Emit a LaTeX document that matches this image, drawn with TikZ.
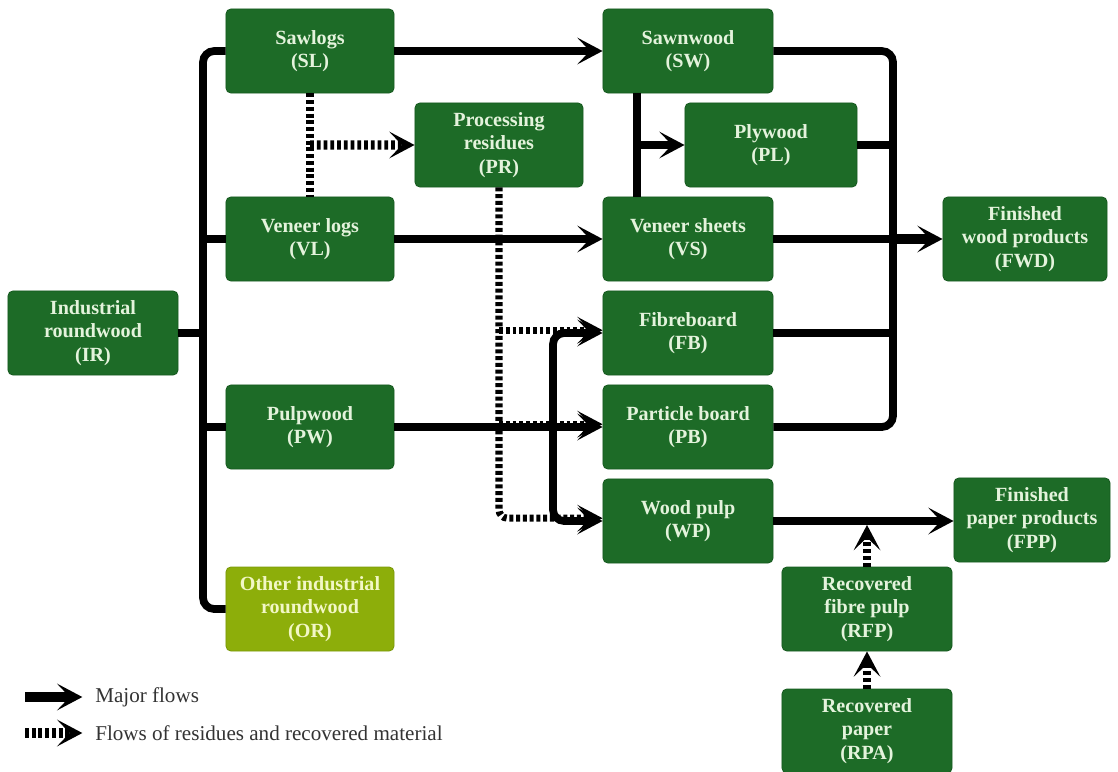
\documentclass[tikz,border=0pt]{standalone}
\usepackage{fontspec}
\setmainfont{Liberation Serif}
\usetikzlibrary{arrows.meta,calc}
\definecolor{boxgreen}{HTML}{1D6B27}
\definecolor{boxedge}{HTML}{175A20}
\definecolor{boxtext}{HTML}{E4F3DC}
\definecolor{orfill}{HTML}{8DAE0A}
\definecolor{oredge}{HTML}{7A9808}
\definecolor{ortext}{HTML}{F2F7C6}
\definecolor{legtext}{HTML}{333333}
\begin{document}
\begin{tikzpicture}[x=0.025cm,y=-0.025cm,
  box/.style={draw=boxedge, fill=boxgreen, rounded corners=3.5pt, minimum height=2.1cm,
    minimum width=4.2cm, text=boxtext, align=center,
    font=\bfseries\fontsize{14.3}{16.5}\selectfont, inner sep=0pt, line width=0.6pt},
  orbox/.style={box, draw=oredge, fill=orfill, text=ortext},
  major/.style={line width=5.5pt, draw=black},
  resid/.style={line width=5pt, draw=black, dash pattern=on 2.8pt off 2pt},
  tip/.style={-{Stealth[length=18pt,width=19pt,inset=9pt]}},
  legend/.style={anchor=west, text=legtext, font=\fontsize{15}{17}\selectfont, inner sep=0pt}
]
\useasboundingbox (0,0) rectangle (1118,771);

% nodes
\node[box, minimum width=4.25cm] (IR) at (93,333) {Industrial\\roundwood\\(IR)};
\node[box] (SL) at (310,51) {Sawlogs\\(SL)};
\node[box] (VL) at (310,239) {Veneer logs\\(VL)};
\node[box] (PW) at (310,427) {Pulpwood\\(PW)};
\node[orbox] (OR) at (310,609) {Other industrial\\roundwood\\(OR)};
\node[box] (PR) at (499,145) {Processing\\residues\\(PR)};
\node[box, minimum width=4.25cm] (SW) at (688,51) {Sawnwood\\(SW)};
\node[box, minimum width=4.3cm] (PL) at (771,145) {Plywood\\(PL)};
\node[box, minimum width=4.25cm] (VS) at (688,239) {Veneer sheets\\(VS)};
\node[box, minimum width=4.25cm] (FB) at (688,333) {Fibreboard\\(FB)};
\node[box, minimum width=4.25cm] (PB) at (688,427) {Particle board\\(PB)};
\node[box, minimum width=4.25cm] (WP) at (688,521) {Wood pulp\\(WP)};
\node[box, minimum width=4.1cm] (FWD) at (1025,239) {Finished\\wood products\\(FWD)};
\node[box, minimum width=3.9cm] (FPP) at (1032,520) {Finished\\paper products\\(FPP)};
\node[box, minimum width=4.25cm] (RFP) at (867,609) {Recovered\\fibre pulp\\(RFP)};
\node[box, minimum width=4.25cm] (RPA) at (867,731) {Recovered\\paper\\(RPA)};

% junction coordinates
\coordinate (trunk) at (203,333);
\coordinate (D1) at ($(SL.south)!0.5!(VL.north)$);
\coordinate (J) at (553,427);
\coordinate (K) at (637,145);
\coordinate (C) at (893,239);

% residue flows (below major flows)
\draw[resid] (SL.south) -- (VL.north);
\draw[resid, line width=6.5pt, tip] (D1) -- (PR.west);
\draw[resid, tip, rounded corners=6pt] (PR.south) |- ([yshift=2pt]WP.west);
\draw[resid, tip] ([yshift=2pt]PR.south |- FB.west) -- ([yshift=2pt]FB.west);
\draw[resid, tip] ([yshift=2pt]PR.south |- PB.west) -- ([yshift=2pt]PB.west);

% major flows
\draw[major, rounded corners=8pt] (SL.west) -| (trunk) |- (OR.west);
\draw[major] (IR.east) -- (trunk);
\draw[major] (VL.west) -- (VL.west -| trunk);
\draw[major] (PW.west) -- (PW.west -| trunk);

\draw[major, tip] (SL.east) -- (SW.west);
\draw[major, tip] (VL.east) -- (VS.west);
\draw[major, tip] (PW.east) -- (PB.west);
\draw[major, tip, rounded corners=8pt] (J) |- (FB.west);
\draw[major, tip, rounded corners=8pt] (J) |- (WP.west);

\draw[major] (K |- SW.south) -- (K |- VS.north);
\draw[major, tip] (K) -- (PL.west);

\draw[major, rounded corners=8pt] (SW.east) -| (C) |- (PB.east);
\draw[major] (PL.east) -- (PL.east -| C);
\draw[major] (FB.east) -- (FB.east -| C);
\draw[major] (VS.east) -- (C);
\draw[major, line width=7pt, tip] (C) -- (FWD.west);

\draw[major, tip] (WP.east) -- (WP.east -| FPP.west);

% recovered material
\draw[resid, tip, shorten >=2.8pt] (RFP.north) -- (RFP.north |- WP.east);
\draw[resid, tip] (RPA.north) -- (RFP.south);

% legend
\node[legend] (LG1) at (95,697) {Major flows};
\node[legend] (LG2) at (95,733) {Flows of residues and recovered material};
\coordinate (LA1) at (25,697);
\coordinate (LA2) at (25,733);
\draw[major, line width=7pt, tip] (LA1) -- ([xshift=-9pt]LG1.west);
\draw[resid, line width=7pt, tip] (LA2) -- ([xshift=-9pt]LG2.west);
\end{tikzpicture}
\end{document}
